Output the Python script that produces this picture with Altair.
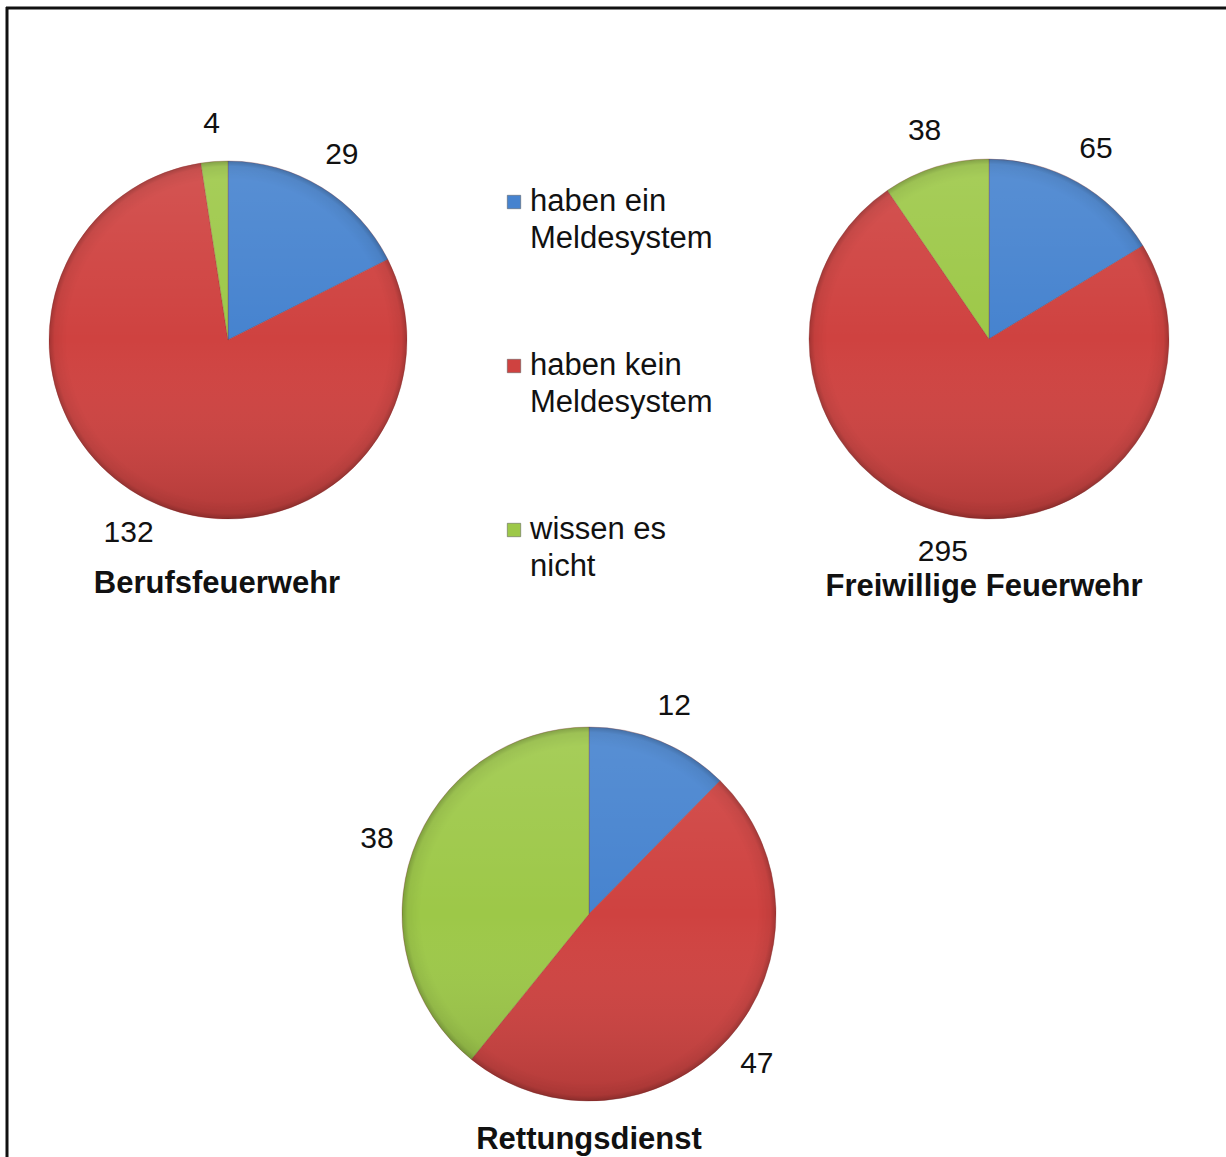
import altair as alt
import pandas as pd

# ---- data ----
categories = ["haben ein Meldesystem", "haben kein Meldesystem", "wissen es nicht"]
legend_lines = ["haben ein|Meldesystem", "haben kein|Meldesystem", "wissen es|nicht"]
colors = ["#4683cf", "#cf4240", "#9dc848"]

groups = ["Berufsfeuerwehr", "Freiwillige Feuerwehr", "Rettungsdienst"]
values_beruf = [29, 132, 4]
values_frei = [65, 295, 38]
values_rett = [12, 47, 38]
all_values = [values_beruf, values_frei, values_rett]

# layout (pixel centres / radii of each pie, title positions)
centers = [(228, 340), (989, 339), (589, 914)]
radii = [179, 180, 187]
title_pos = [(217, 584), (984, 587), (589, 1140)]

rows = []
for g, vals in zip(groups, all_values):
    for i, (c, v) in enumerate(zip(categories, vals)):
        rows.append({"group": g, "category": c, "value": v, "ord": i})
df = pd.DataFrame(rows)

color_scale = alt.Scale(domain=categories, range=colors)
FONT = "Liberation Sans"

layers = []
for g, (cx, cy), r, (tx, ty) in zip(groups, centers, radii, title_pos):
    base = alt.Chart(df).transform_filter(alt.datum.group == g).encode(
        theta=alt.Theta("value:Q", stack=True),
        order=alt.Order("ord:Q"),
        x=alt.value(cx),
        y=alt.value(cy),
    )
    arcs = base.mark_arc(radius=r, stroke="#8a3030", strokeWidth=0.6, strokeOpacity=0.5).encode(
        color=alt.Color("category:N", scale=color_scale, legend=None)
    )
    shade = alt.Chart(pd.DataFrame({"a": [0]})).mark_arc(
        radius=r,
        theta=0,
        theta2=6.2832,
        fill=alt.LinearGradient(
            gradient="linear",
            x1=0.5, y1=0.0, x2=0.5, y2=1.0,
            stops=[
                alt.GradientStop(offset=0.0, color="rgba(255,255,255,0.10)"),
                alt.GradientStop(offset=0.5, color="rgba(255,255,255,0.0)"),
                alt.GradientStop(offset=1.0, color="rgba(0,0,0,0.14)"),
            ],
        ),
    ).encode(x=alt.value(cx), y=alt.value(cy))
    rim = alt.Chart(pd.DataFrame({"a": [0]})).mark_arc(
        radius=r,
        theta=0,
        theta2=6.2832,
        fill=alt.RadialGradient(
            gradient="radial",
            x1=0.5, y1=0.5, r1=0.0, x2=0.5, y2=0.5, r2=0.5,
            stops=[
                alt.GradientStop(offset=0.0, color="rgba(0,0,0,0)"),
                alt.GradientStop(offset=0.9, color="rgba(0,0,0,0)"),
                alt.GradientStop(offset=0.97, color="rgba(0,0,0,0.06)"),
                alt.GradientStop(offset=1.0, color="rgba(0,0,0,0.22)"),
            ],
        ),
    ).encode(x=alt.value(cx), y=alt.value(cy))
    labels = base.mark_text(radius=r + 38, font=FONT, fontSize=30, color="#111111").encode(
        text=alt.Text("value:Q")
    )
    title = alt.Chart(pd.DataFrame({"t": [g]})).mark_text(
        font=FONT, fontSize=31, fontWeight="bold", color="#111111"
    ).encode(text="t:N", x=alt.value(tx), y=alt.value(ty))
    layers += [arcs, shade, rim, labels, title]

# ---- custom legend ----
leg_df = pd.DataFrame({"category": categories, "label": legend_lines, "ord": [0, 1, 2]})
leg_y = alt.Y("ord:Q", axis=None, scale=alt.Scale(domain=[0, 2], range=[202, 530]))
leg_sym = alt.Chart(leg_df).mark_square(size=180, stroke="#555555", strokeWidth=0.5, opacity=1).encode(
    x=alt.value(514),
    y=leg_y,
    color=alt.Color("category:N", scale=color_scale, legend=None),
)
leg_txt = alt.Chart(leg_df).mark_text(
    font=FONT, fontSize=31, align="left", baseline="middle", lineBreak="|", lineHeight=37,
    color="#111111"
).encode(x=alt.value(530), y=leg_y, text="label:N")

# ---- frame lines ----
frame_top = alt.Chart(pd.DataFrame({"a": [0]})).mark_rule(color="#111111", strokeWidth=3).encode(
    x=alt.value(6), x2=alt.value(1226), y=alt.value(8)
)
frame_left = alt.Chart(pd.DataFrame({"a": [0]})).mark_rule(color="#111111", strokeWidth=3).encode(
    x=alt.value(7), y=alt.value(7), y2=alt.value(1157)
)

chart = alt.layer(*layers, leg_sym, leg_txt, frame_top, frame_left).resolve_scale(
    theta="independent"
).properties(
    width=1226,
    height=1157,
    autosize=alt.AutoSizeParams(type="none"),
    padding=0,
    background="white",
).configure_view(stroke=None)

chart.save("out.html", embed_options={"renderer": "svg", "actions": False})
